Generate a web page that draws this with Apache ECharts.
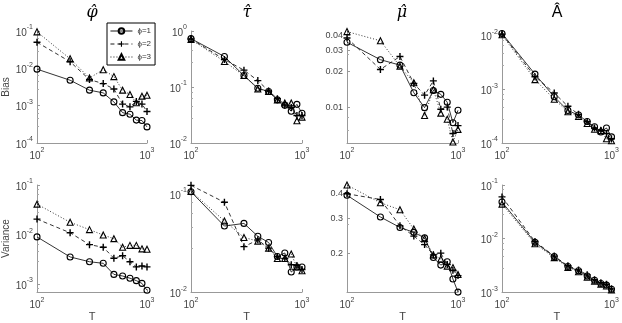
<!DOCTYPE html>
<html>
<head>
<meta charset="utf-8">
<script src="https://cdn.jsdelivr.net/npm/echarts@6/dist/echarts.min.js"></script>
<style>
  html, body { margin: 0; background: #fff; }
  #chart { width: 622px; height: 323px; }
</style>
</head>
<body>
<div id="chart"></div>
<script>
var T = [100, 200, 300, 400, 500, 600, 700, 800, 900, 1000];

// Bias
var bPhi1 = [0.0095, 0.0048, 0.0026, 0.0022, 0.00126, 0.00065, 0.00059, 0.00041, 0.0004, 0.00027];
var bPhi2 = [0.05, 0.015, 0.005, 0.0039, 0.0028, 0.0011, 0.00093, 0.0013, 0.0011, 0.0007];
var bPhi3 = [0.095, 0.018, 0.0055, 0.0092, 0.006, 0.0026, 0.002, 0.0012, 0.0018, 0.0019];
var bTau1 = [0.73, 0.35, 0.16, 0.095, 0.083, 0.059, 0.047, 0.037, 0.049, 0.034];
var bTau2 = [0.72, 0.31, 0.2, 0.13, 0.085, 0.062, 0.048, 0.043, 0.031, 0.031];
var bTau3 = [0.71, 0.285, 0.16, 0.092, 0.083, 0.059, 0.052, 0.052, 0.025, 0.029];
var bMu1 = [0.035, 0.025, 0.0225, 0.0132, 0.0099, 0.0138, 0.0128, 0.011, 0.0074, 0.0094];
var bMu2 = [0.038, 0.0207, 0.0266, 0.0158, 0.0126, 0.0166, 0.0096, 0.010, 0.006, 0.007];
var bMu3 = [0.043, 0.036, 0.022, 0.016, 0.0085, 0.014, 0.0089, 0.0079, 0.0051, 0.0065];
var bA1 = [0.0108, 0.0019, 0.00072, 0.0004, 0.00033, 0.00025, 0.0002, 0.00016, 0.00019, 0.00013];
var bA2 = [0.0105, 0.0017, 0.00085, 0.00048, 0.00034, 0.00025, 0.00019, 0.00017, 0.00015, 0.00012];
var bA3 = [0.0102, 0.0015, 0.00065, 0.00038, 0.00031, 0.00023, 0.00018, 0.00017, 0.00012, 0.00011];

// Variance
var vPhi1 = [0.0089, 0.0035, 0.0028, 0.0026, 0.00155, 0.00144, 0.0013, 0.00116, 0.00102, 0.00074];
var vPhi2 = [0.0204, 0.0108, 0.0062, 0.0055, 0.0033, 0.0037, 0.0028, 0.0022, 0.0023, 0.0022];
var vPhi3 = [0.041, 0.0176, 0.0125, 0.0097, 0.0082, 0.0055, 0.006, 0.006, 0.0051, 0.005];
var vTau1 = [0.105, 0.047, 0.05, 0.037, 0.032, 0.023, 0.025, 0.016, 0.018, 0.018];
var vTau2 = [0.122, 0.082, 0.029, 0.034, 0.028, 0.023, 0.022, 0.019, 0.0187, 0.017];
var vTau3 = [0.106, 0.053, 0.036, 0.033, 0.028, 0.022, 0.022, 0.0244, 0.018, 0.0165];
var vMu1 = [0.393, 0.305, 0.27, 0.255, 0.239, 0.19, 0.174, 0.181, 0.148, 0.127];
var vMu2 = [0.4, 0.374, 0.275, 0.244, 0.221, 0.196, 0.2, 0.175, 0.164, 0.154];
var vMu3 = [0.443, 0.36, 0.332, 0.265, 0.237, 0.196, 0.187, 0.172, 0.169, 0.156];
var vA1 = [0.048, 0.0085, 0.0046, 0.003, 0.0025, 0.002, 0.00166, 0.00145, 0.00135, 0.00113];
var vA2 = [0.06, 0.0088, 0.0047, 0.0031, 0.0026, 0.0021, 0.0017, 0.0015, 0.0014, 0.00115];
var vA3 = [0.044, 0.008, 0.0044, 0.0029, 0.0024, 0.0019, 0.0016, 0.0014, 0.0013, 0.0011];

var names = ['ϕ=1', 'ϕ=2', 'ϕ=3'];
var titles = ['φ\u0302', 'τ\u0302', 'μ\u0302', 'A\u0302'];
var yMin = [1e-4, 1e-2, 0.005, 1e-4, 6.8e-4, 0.01, 0.127, 1e-3];
var yMax = [1e-1, 1, 0.0435, 0.012, 0.1, 0.123, 0.443, 0.1];
var muTicksBias = [0.01, 0.02, 0.03, 0.04];
var muTicksVar = [0.2, 0.3, 0.4];

var panels = [
  [bPhi1, bPhi2, bPhi3], [bTau1, bTau2, bTau3], [bMu1, bMu2, bMu3], [bA1, bA2, bA3],
  [vPhi1, vPhi2, vPhi3], [vTau1, vTau2, vTau3], [vMu1, vMu2, vMu3], [vA1, vA2, vA3]
];

var LEFTS = [36, 191, 347, 502];
var PLUS = 'path://M4,0H6V4H10V6H6V10H4V6H0V4H4Z';
var lineTypes = ['solid', [4, 3], [1, 2]];
var symbols = ['circle', PLUS, 'triangle'];
var FONT = 'Liberation Sans';

function powLabel(v) {
  var e = Math.log(v) / Math.LN10;
  if (Math.abs(e - Math.round(e)) > 1e-6) return '';
  return '{b|10}{s|' + Math.round(e) + '}';
}

var richSup = {
  b: { fontSize: 10, color: '#444', fontFamily: FONT, lineHeight: 14, verticalAlign: 'bottom' },
  s: { fontSize: 7, color: '#444', fontFamily: FONT, lineHeight: 14, verticalAlign: 'top' }
};

var grids = [], xAxes = [], yAxes = [], series = [], graphics = [];

for (var i = 0; i < 8; i++) {
  var row = Math.floor(i / 4), col = i % 4;
  grids.push({
    left: LEFTS[col], width: 111,
    top: row === 0 ? 31 : 185,
    height: row === 0 ? 112 : 110
  });
  xAxes.push({
    type: 'log', gridIndex: i, min: 100, max: 1000,
    name: row === 1 ? 'T' : '', nameLocation: 'middle', nameGap: 15,
    nameTextStyle: { fontSize: 11, color: '#444', fontFamily: FONT },
    axisLine: { show: true, lineStyle: { color: '#999', width: 1 } },
    axisTick: { show: true, inside: true, length: 3, lineStyle: { color: '#999' } },
    splitLine: { show: false },
    axisLabel: { formatter: powLabel, rich: richSup, margin: 4 }
  });
  var ya = {
    type: 'log', gridIndex: i, min: yMin[i], max: yMax[i],
    name: col === 0 ? (row === 0 ? 'Bias' : 'Variance') : '',
    nameLocation: 'middle', nameGap: 26, nameRotate: 90,
    nameTextStyle: { fontSize: 10, color: '#444', fontFamily: FONT },
    axisLine: { show: true, lineStyle: { color: '#999', width: 1 } },
    axisTick: { show: true, inside: true, length: 3, lineStyle: { color: '#999' } },
    minorTick: { show: true, splitNumber: 5, length: 2, lineStyle: { color: '#aaa' } },
    splitLine: { show: false },
    axisLabel: { formatter: powLabel, rich: richSup, margin: 4 }
  };
  if (i === 2 || i === 6) {
    var cv = i === 2 ? muTicksBias : muTicksVar;
    ya.axisLabel = {
      customValues: cv, margin: 4, fontSize: 9, color: '#444', fontFamily: FONT,
      formatter: (function (d) { return function (v) { return v.toFixed(d); }; })(i === 2 ? 2 : 1)
    };
    ya.axisTick = { show: true, inside: true, length: 3, customValues: cv, lineStyle: { color: '#999' } };
  }
  yAxes.push(ya);

  for (var k = 0; k < 3; k++) {
    series.push({
      type: 'line', name: names[k], xAxisIndex: i, yAxisIndex: i,
      data: T.map(function (t, j) { return [t, panels[i][k][j]]; }),
      symbol: symbols[k], symbolSize: k === 1 ? 7 : 6,
      showAllSymbol: true,
      lineStyle: { color: '#000', width: 0.8, type: lineTypes[k] },
      itemStyle: k === 1
        ? { color: '#000', borderWidth: 0 }
        : { color: 'rgba(255,255,255,0)', borderColor: '#000', borderWidth: 1.1 },
      emphasis: { disabled: true },
      silent: true
    });
  }
}

var titleX = [92, 247, 402, 557];
titles.forEach(function (t, c) {
  graphics.push({
    type: 'text', x: titleX[c], y: 13,
    style: {
      text: t, align: 'center', verticalAlign: 'middle',
      fontSize: 16, fontFamily: c === 3 ? FONT : 'DejaVu Serif',
      fontStyle: c === 3 ? 'normal' : 'italic', fill: '#000'
    }
  });
});

var myChart = echarts.init(document.getElementById('chart'));
myChart.setOption({
  animation: false,
  grid: grids,
  xAxis: xAxes,
  yAxis: yAxes,
  legend: {
    data: names, orient: 'vertical', left: 107, top: 23,
    itemWidth: 22, itemHeight: 7, itemGap: 5,
    padding: [4, 4, 4, 3],
    backgroundColor: '#fff', borderColor: '#000', borderWidth: 1,
    lineStyle: { width: 0.9 },
    textStyle: { fontSize: 8, color: '#333', fontFamily: FONT },
    selectedMode: false
  },
  graphic: graphics,
  series: series
});
</script>
</body>
</html>
